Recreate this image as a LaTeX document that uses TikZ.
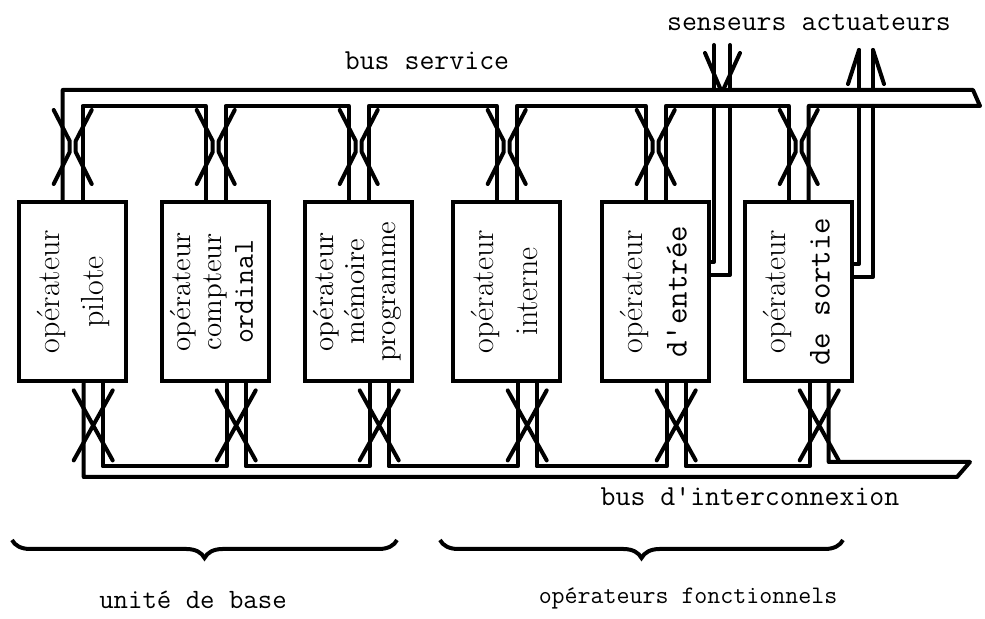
\documentclass[tikz,border=0pt]{standalone}
\usepackage{graphicx}
\usetikzlibrary{calc, decorations.pathreplacing}
\newcommand{\optxt}[1]{\rotatebox{90}{\begin{tabular}{@{}c@{}}#1\end{tabular}}}

\begin{document}
\begin{tikzpicture}[
  x=0.5pt, y=-0.5pt,
  opbox/.style={
    draw,
    line width=2.2pt,
    anchor=north west,
    inner sep=0pt,
    minimum width=53.5pt,
    minimum height=89.5pt,
    font=\fontsize{16}{22}\selectfont
  },
  smallbox/.style={opbox, font=\fontsize{14.5}{15.5}\selectfont},
  wire/.style={line width=2pt, line join=round, line cap=round},
  buslabel/.style={inner sep=0pt, font=\fontsize{14.5}{17}\selectfont\ttfamily},
  groupbrace/.style={decorate, decoration={brace, mirror, amplitude=9pt}, line width=2pt}
]
\useasboundingbox (0,0) rectangle (985,619);

% operateurs
\node[opbox] (pilote) at (17,200) {\optxt{opérateur\\pilote}};
\node[smallbox] (ordinal) at (160,200) {\optxt{opérateur\\compteur\\\texttt{ordinal}}};
\node[smallbox] (memoire) at (303,200) {\optxt{opérateur\\mémoire\\programme}};
\node[opbox] (interne) at (451,200) {\optxt{opérateur\\interne}};
\node[opbox] (entree) at (600,200) {\optxt{opérateur\\\texttt{d\textquotesingle entrée}}};
\node[opbox] (sortie) at (743,200) {\optxt{opérateur\\\texttt{de sortie}}};

% bus service
\coordinate (svc end) at (973,90);
\coordinate (svc tip) at (980,106);
\draw[wire] ($(pilote.north)+(-10,0)$) |- (svc end) -- (svc tip) -| ($(sortie.north)+(10,0)$);
\foreach \a/\b in {pilote/ordinal, ordinal/memoire, memoire/interne, interne/entree, entree/sortie}
  \draw[wire] ($(\a.north)+(10,0)$) |- ($(\b.north)+(-10,-94)$) -- ($(\b.north)+(-10,0)$);
\foreach \b in {pilote, ordinal, memoire, interne, entree, sortie}
  \draw[wire] ($(\b.north)+(-19,-90)$) -- ($(\b.north)+(-3,-59)$) -- ($(\b.north)+(-3,-48)$) -- ($(\b.north)+(-19,-16)$)
    ($(\b.north)+(19,-90)$) -- ($(\b.north)+(3,-59)$) -- ($(\b.north)+(3,-48)$) -- ($(\b.north)+(19,-16)$);

% bus d'interconnexion
\coordinate (ic end) at (957,477);
\coordinate (ic tip) at (970,462);
\draw[wire] ($(pilote.south)+(11,0)$) |- (ic end) -- (ic tip) -| ($(sortie.south)+(30,0)$);
\foreach \a/\b in {pilote/ordinal, ordinal/memoire, memoire/interne, interne/entree, entree/sortie}
  \draw[wire] ($(\a.south)+(30,0)$) |- ($(\b.south)+(11,83)$) -- ($(\b.south)+(11,0)$);
\foreach \b in {pilote, ordinal, memoire, interne, entree, sortie}
  \draw[wire] ($(\b.south)+(1,7)$) -- ($(\b.south)+(40,77)$) ($(\b.south)+(40,7)$) -- ($(\b.south)+(1,77)$);

% senseurs et actuateurs
\coordinate (sens) at (722,45);
\coordinate (act) at (866,50);
\draw[wire] ($(sens)+(-8,0)$) -- ($(sens)+(-8,45)$) ($(sens)+(-8,61)$) |- ($(entree.north east)+(0,62)$);
\draw[wire] ($(sens)+(8,0)$) -- ($(sens)+(8,45)$) ($(sens)+(8,61)$) |- ($(entree.north east)+(0,75)$);
\draw[wire] ($(sens)+(-17,8)$) -- ($(sens)+(-2,43)$) ($(sens)+(18,8)$) -- ($(sens)+(2,43)$);
\draw[wire] ($(act)+(-7,0)$) -- ($(act)+(-7,40)$) ($(act)+(-7,56)$) |- ($(sortie.north east)+(0,64)$);
\draw[wire] ($(act)+(7,0)$) -- ($(act)+(7,40)$) ($(act)+(7,56)$) |- ($(sortie.north east)+(0,77)$);
\draw[wire] ($(act)+(-18,34)$) -- ($(act)+(-7,0)$) ($(act)+(18,34)$) -- ($(act)+(7,0)$);

% textes
\node[buslabel] (svc lbl) at (427,61) {bus service};
\node[buslabel] (io lbl) at (809,23) {senseurs actuateurs};
\node[buslabel] (ic lbl) at (750,497) {bus d\textquotesingle interconnexion};

\draw[groupbrace] (12,540) -- (397,540);
\draw[groupbrace] (440,540) -- (843,540);
\node[buslabel, font=\fontsize{14}{16}\selectfont\ttfamily] (base lbl) at (193,600) {unité de base};
\node[buslabel, font=\fontsize{12.6}{15}\selectfont\ttfamily] (fonc lbl) at (688,598) {opérateurs fonctionnels};

\end{tikzpicture}
\end{document}
